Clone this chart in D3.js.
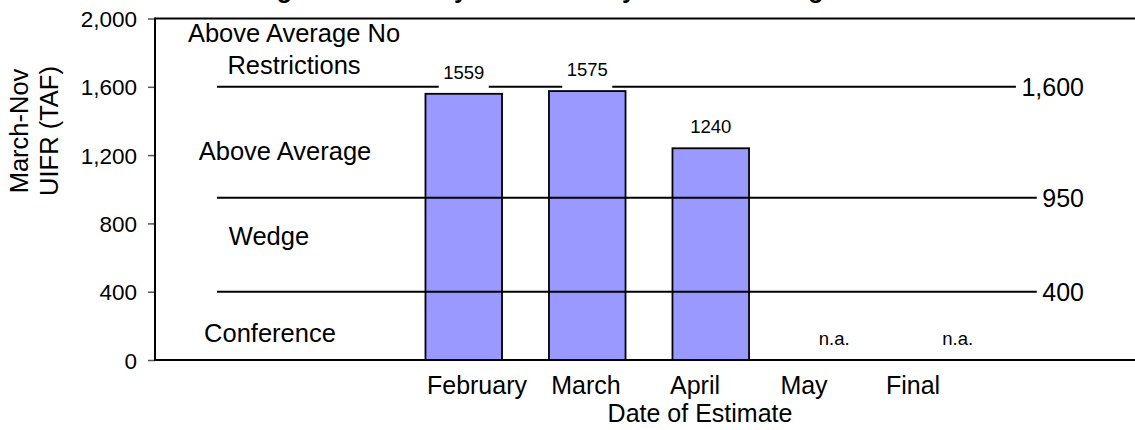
<!DOCTYPE html>
<html>
<head>
<meta charset="utf-8">
<script src="https://cdn.jsdelivr.net/npm/d3@7"></script>
<style>
  body { margin: 0; background: #fff; }
  svg { display: block; font-family: "Liberation Sans", Arial, sans-serif; }
</style>
</head>
<body>
<svg id="vis" width="1135" height="430"></svg>
<script>
// chart values
var titleText = "Big Wood Flow by Issue Date by Forecast Categories";
var categories = ["February", "March", "April", "May", "Final"];
var values = [1559, 1575, 1240, null, null];
var yTicks = [0, 400, 800, 1200, 1600, 2000];
var thresholds = [1600, 950, 400];
var thresholdLabels = ["1,600", "950", "400"];
var zoneLabels = [["Above Average No", "Restrictions"], ["Above Average"], ["Wedge"], ["Conference"]];
var missingLabel = "n.a.";
var xTitle = "Date of Estimate";
var yTitle = ["March-Nov", "UIFR (TAF)"];

// layout
var plotLeft = 155, plotTop = 18.5, plotBottom = 360, plotRight = 1143;
var slot = (plotRight - plotLeft) / 8;   // 2 empty slots before, 1 after
var zonePos = [{x: 294, y: [42, 73.5]}, {x: 285, y: [160]}, {x: 269, y: [245]}, {x: 270, y: [342]}];

var svg = d3.select("#vis");

var x = d3.scaleBand()
    .domain(categories)
    .range([plotLeft + 2 * slot, plotLeft + 7 * slot])
    .paddingInner(0.38)
    .paddingOuter(0.19);

// category labels sit on their own row, a bit tighter than the bars
var xLab = d3.scalePoint().domain(categories).range([477, 913]);

var y = d3.scaleLinear().domain([0, 2000]).range([plotBottom, plotTop]);

// title (mostly cut off by the top edge, like the original)
svg.append("text")
    .attr("x", 567.5).attr("y", -2)
    .attr("text-anchor", "middle")
    .style("font-size", "25px").style("font-weight", "bold")
    .text(titleText);

// bars
var data = categories.map(function(c, i){ return {cat: c, v: values[i]}; });

svg.append("g").selectAll("rect")
    .data(data.filter(function(d){ return d.v != null; }))
    .enter()
    .append("rect")
    .attr("x", function(d){ return x(d.cat); })
    .attr("y", function(d){ return y(d.v); })
    .attr("width", x.bandwidth())
    .attr("height", function(d){ return y(0) - y(d.v); })
    .style("fill", "#9999ff")
    .style("stroke", "#000")
    .style("stroke-width", 1.8);

// threshold lines drawn over the bars, labels on the right
var th = svg.append("g");
thresholds.forEach(function(t, i){
    var lab = th.append("text")
        .attr("x", 1084).attr("y", y(t) + 9.5)
        .attr("text-anchor", "end")
        .style("font-size", "25px")
        .text(thresholdLabels[i]);
    var w = lab.node().getComputedTextLength();
    th.insert("line", "text")
        .attr("x1", 217).attr("x2", 1084 - w - 5.5)
        .attr("y1", y(t)).attr("y2", y(t))
        .attr("stroke", "#000").attr("stroke-width", 2);
});

// value labels with white boxes (they break the 1,600 line)
var vl = svg.append("g").selectAll("g")
    .data(data)
    .enter()
    .append("g");

vl.filter(function(d){ return d.v != null; })
    .append("rect")
    .attr("x", function(d){ return x(d.cat) + x.bandwidth() / 2 - 25; })
    .attr("y", function(d){ return y(d.v) - 32; })
    .attr("width", 50).attr("height", 29)
    .style("fill", "#fff");

vl.append("text")
    .attr("x", function(d){ return x(d.cat) + x.bandwidth() / 2; })
    .attr("y", function(d){ return d.v != null ? y(d.v) - 15 : 345; })
    .attr("text-anchor", "middle")
    .style("font-size", "18.5px")
    .text(function(d){ return d.v != null ? d.v : missingLabel; });

// zone labels
zoneLabels.forEach(function(lines, i){
    lines.forEach(function(s, j){
        svg.append("text")
            .attr("x", zonePos[i].x).attr("y", zonePos[i].y[j])
            .attr("text-anchor", "middle")
            .style("font-size", "25.5px")
            .text(s);
    });
});

// y axis
var yAxis = d3.axisLeft(y).tickValues(yTicks).tickSize(7).tickPadding(11).tickFormat(d3.format(","));
var ga = svg.append("g").attr("transform", "translate(" + plotLeft + ",0)").call(yAxis);
ga.select(".domain").remove();
ga.selectAll(".tick line").attr("stroke", "#555").attr("stroke-width", 1.5);
ga.selectAll(".tick text")
    .attr("dy", null).attr("y", 8)
    .style("font-size", "22.5px").style("font-family", "Liberation Sans, Arial, sans-serif")
    .attr("fill", "#000");

// frame: left, top and bottom
svg.append("line").attr("x1", plotLeft).attr("x2", plotLeft).attr("y1", plotTop - 1).attr("y2", plotBottom + 1)
    .attr("stroke", "#000").attr("stroke-width", 2);
svg.append("line").attr("x1", plotLeft).attr("x2", 1135).attr("y1", plotTop).attr("y2", plotTop)
    .attr("stroke", "#000").attr("stroke-width", 2);
svg.append("line").attr("x1", plotLeft).attr("x2", 1135).attr("y1", plotBottom).attr("y2", plotBottom)
    .attr("stroke", "#000").attr("stroke-width", 2);

// category labels
svg.append("g").selectAll("text")
    .data(categories)
    .enter()
    .append("text")
    .attr("x", function(d){ return xLab(d); })
    .attr("y", 394)
    .attr("text-anchor", "middle")
    .style("font-size", "25px")
    .text(function(d){ return d; });

// axis titles
svg.append("text")
    .attr("x", 700).attr("y", 422)
    .attr("text-anchor", "middle")
    .style("font-size", "25px")
    .text(xTitle);

yTitle.forEach(function(s, i){
    svg.append("text")
        .attr("transform", "translate(" + (28 + i * 30) + ",131) rotate(-90)")
        .attr("text-anchor", "middle")
        .style("font-size", "25.5px")
        .text(s);
});
</script>
</body>
</html>
